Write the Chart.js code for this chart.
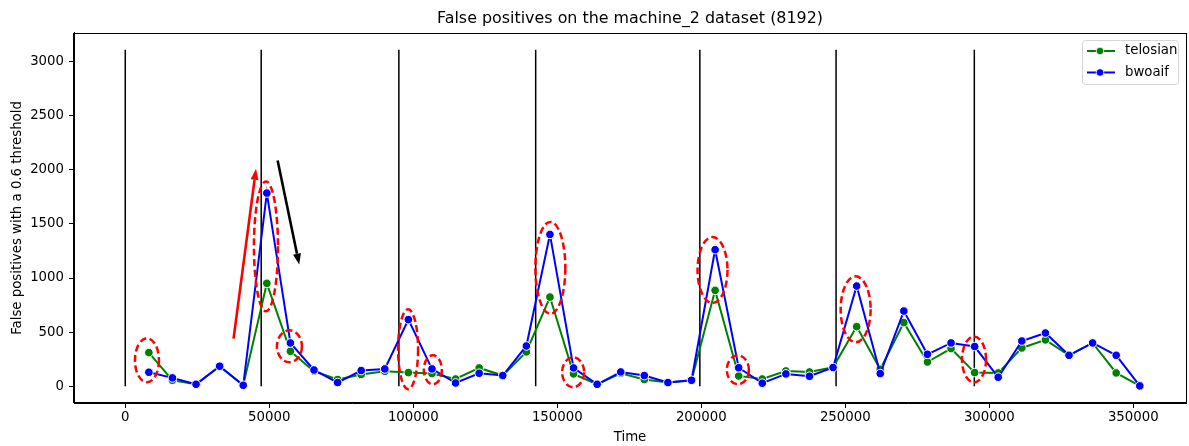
<!DOCTYPE html>
<html><head><meta charset="utf-8">
<script src="https://cdn.jsdelivr.net/npm/chart.js@4"></script>
<style>html,body{margin:0;padding:0;background:#fff}#wrap{width:1189px;height:446px;position:relative}</style>
</head><body><div id="wrap"><canvas id="c" width="1189" height="446"></canvas></div>
<script>
// ---- data ----
const times = [8192,16384,24576,32768,40960,49152,57344,65536,73728,81920,90112,98304,106496,114688,122880,131072,139264,147456,155648,163840,172032,180224,188416,196608,204800,212992,221184,229376,237568,245760,253952,262144,270336,278528,286720,294912,303104,311296,319488,327680,335872,344064,352256];
const telosian = [311,55,18,185,9,951,323,138,62,108,138,126,117,67,169,99,317,824,114,18,120,62,34,55,886,95,67,141,132,175,551,157,588,224,348,126,123,354,428,286,400,123,3];
const bwoaif = [129,77,18,185,9,1785,400,150,34,145,160,616,160,30,120,99,372,1403,169,18,132,99,34,55,1262,171,28,114,92,173,926,117,695,295,400,367,83,418,492,286,400,286,3];
const seriesLabels = ['telosian','bwoaif'];
const vlineTimes = [0,47200,95000,142500,199500,246800,294800];
const vlineTop = 3110;
const xTicks = [0,50000,100000,150000,200000,250000,300000,350000];
const yTicks = [0,500,1000,1500,2000,2500,3000];
// highlighted regions (data units)
const ellX = [7530,48850,57000,98200,106800,147600,155500,203900,212700,253600,294700];
const ellY = [240,1293,369,342,152,1094,129,1074,152,711,247];
const ellRX = [4170,4170,4340,3470,3125,5200,3820,5200,3820,5200,4170];
const ellRY = [203,600,148,369,134,425,138,305,134,305,212];
// arrows (data units)
const arrFromX = [37600,52900];
const arrFromY = [440,2087];
const arrToX = [45400,60400];
const arrToY = [2010,1124];
const arrColor = ['#ff0000','#000000'];

const FONT = 'DejaVu Sans';
const vlineData = [];
vlineTimes.forEach(t => { vlineData.push({x:t,y:0},{x:t,y:vlineTop},{x:t,y:null}); });

const colors = ['#008000','#0000ff'];
function series(label, vals, color, order){
  return {label, data: times.map((t,i)=>({x:t,y:vals[i]})), borderColor:color, backgroundColor:color,
    pointBackgroundColor:color, pointBorderColor:'#ffffff', pointBorderWidth:1, pointRadius:4.3, pointHoverRadius:4.3,
    borderWidth:2, tension:0, order};
}

const overlay = {
  id:'overlay',
  afterDatasetsDraw(chart){
    const {ctx, scales:{x,y}, chartArea:a} = chart;
    ctx.save();
    ctx.beginPath(); ctx.rect(a.left,a.top,a.right-a.left,a.bottom-a.top); ctx.clip();
    // ellipses
    ctx.strokeStyle = '#ff0000'; ctx.lineWidth = 2.5; ctx.setLineDash([7,3.5]);
    for (let i=0;i<ellX.length;i++){
      const cx = x.getPixelForValue(ellX[i]), cy = y.getPixelForValue(ellY[i]);
      const rx = Math.abs(x.getPixelForValue(ellX[i]+ellRX[i]) - cx);
      const ry = Math.abs(y.getPixelForValue(ellY[i]+ellRY[i]) - cy);
      ctx.beginPath(); ctx.ellipse(cx,cy,rx,ry,0,0,Math.PI*2); ctx.stroke();
    }
    ctx.setLineDash([]);
    // arrows
    for (let i=0;i<arrFromX.length;i++){
      const x0 = x.getPixelForValue(arrFromX[i]), y0 = y.getPixelForValue(arrFromY[i]);
      const x1 = x.getPixelForValue(arrToX[i]), y1 = y.getPixelForValue(arrToY[i]);
      const ang = Math.atan2(y1-y0,x1-x0), hl = 11, hw = 4;
      const bx = x1 - hl*Math.cos(ang), by = y1 - hl*Math.sin(ang);
      ctx.strokeStyle = arrColor[i]; ctx.fillStyle = arrColor[i]; ctx.lineWidth = 2.6; ctx.lineCap='butt';
      ctx.beginPath(); ctx.moveTo(x0,y0); ctx.lineTo(bx,by); ctx.stroke();
      ctx.beginPath(); ctx.moveTo(x1,y1);
      ctx.lineTo(bx + hw*Math.sin(ang), by - hw*Math.cos(ang));
      ctx.lineTo(bx - hw*Math.sin(ang), by + hw*Math.cos(ang));
      ctx.closePath(); ctx.fill();
    }
    ctx.restore();
  },
  afterDraw(chart){
    const {ctx, chartArea:a} = chart;
    ctx.save();
    // frame
    ctx.strokeStyle = '#000'; ctx.lineWidth = 1;
    ctx.strokeRect(Math.round(a.left)-0.5, Math.round(a.top)+0.5, Math.round(a.right-a.left)+1, Math.round(a.bottom-a.top)-1);
    // legend
    const bx = a.right - 104, by = a.top + 7, bw = 96, bh = 44, r = 3;
    ctx.fillStyle = 'rgba(255,255,255,0.8)'; ctx.strokeStyle = '#d5d5d5'; ctx.lineWidth = 1;
    ctx.beginPath(); ctx.roundRect(bx+0.5,by+0.5,bw,bh,r); ctx.fill(); ctx.stroke();
    ctx.font = '13.3px "' + FONT + '"'; ctx.textBaseline = 'middle'; ctx.textAlign = 'left';
    seriesLabels.forEach((lab,i)=>{
      const ly = by + 11 + i*21.5;
      ctx.strokeStyle = colors[i]; ctx.lineWidth = 2;
      ctx.beginPath(); ctx.moveTo(bx+5,ly); ctx.lineTo(bx+33,ly); ctx.stroke();
      ctx.fillStyle = colors[i]; ctx.beginPath(); ctx.arc(bx+18,ly,3.8,0,Math.PI*2); ctx.fill();
      ctx.strokeStyle='#fff'; ctx.lineWidth=0.8; ctx.stroke();
      ctx.fillStyle = '#000'; ctx.fillText(lab, bx+43, ly);
    });
    ctx.restore();
  }
};

const tickFont = {family:FONT, size:13.3};
new Chart(document.getElementById('c'), {
  type:'line',
  data:{datasets:[
    {label:'_vlines', data:vlineData, borderColor:'#000', borderWidth:1.5, pointRadius:0, pointHoverRadius:0, spanGaps:false, order:3},
    series(seriesLabels[0], telosian, colors[0], 2),
    series(seriesLabels[1], bwoaif, colors[1], 1)
  ]},
  options:{
    responsive:false, animation:false, events:[],
    layout:{autoPadding:false, padding:{left:0,right:3,top:0,bottom:0}},
    plugins:{
      legend:{display:false}, tooltip:{enabled:false},
      title:{display:true, fullSize:false, text:'False positives on the machine_2 dataset (8192)', color:'#000',
        font:{family:FONT,size:15.9,weight:'normal'}, padding:{top:9.5,bottom:4.4}}
    },
    scales:{
      x:{type:'linear', min:-17800, max:368300,
        afterBuildTicks:s=>{s.ticks = xTicks.map(v=>({value:v}));},
        ticks:{callback:v=>String(v), color:'#000', font:tickFont, padding:2, maxRotation:0, autoSkip:false},
        grid:{display:true, drawOnChartArea:false, drawTicks:true, tickLength:5, color:'#000', lineWidth:1},
        border:{display:true, color:'#000', width:1},
        title:{display:true, text:'Time', color:'#000', font:tickFont, padding:{top:0.5,bottom:0}},
        afterFit:s=>{s.height = 43; s.paddingLeft = 0; s.paddingRight = 0;}
      },
      y:{type:'linear', min:-155, max:3265,
        afterBuildTicks:s=>{s.ticks = yTicks.map(v=>({value:v}));},
        ticks:{callback:v=>String(v), color:'#000', font:tickFont, padding:5, autoSkip:false},
        grid:{display:true, drawOnChartArea:false, drawTicks:true, tickLength:5, color:'#000', lineWidth:1},
        border:{display:true, color:'#000', width:1},
        title:{display:true, text:'False positives with a 0.6 threshold', color:'#000', font:tickFont, padding:{top:10,bottom:0}},
        afterFit:s=>{s.width = 74; s.paddingTop = 0; s.paddingBottom = 0;}
      }
    }
  },
  plugins:[overlay]
});
</script></body></html>
